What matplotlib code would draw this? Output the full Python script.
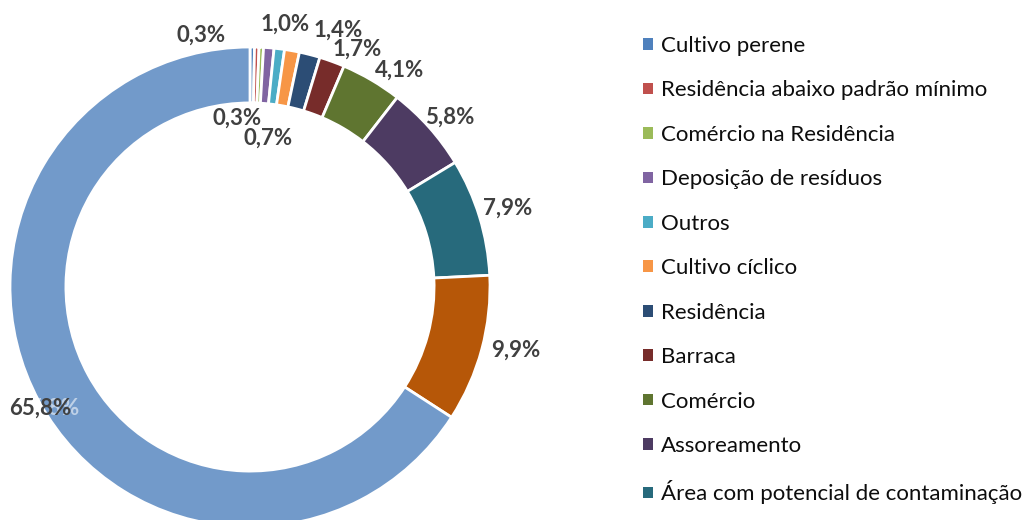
import matplotlib
matplotlib.use("Agg")
import matplotlib.pyplot as plt
from matplotlib.patches import Patch

plt.rcParams["font.family"] = ["Lato", "DejaVu Sans"]

# Legend entries (only the named categories are listed)
legend_names = [
    "Cultivo perene",
    "Residência abaixo padrão mínimo",
    "Comércio na Residência",
    "Deposição de resíduos",
    "Outros",
    "Cultivo cíclico",
    "Residência",
    "Barraca",
    "Comércio",
    "Assoreamento",
    "Área com potencial de contaminação",
]

# Share of each category (%), clockwise from 12 o'clock
shares = [0.3, 0.3, 0.3, 0.7, 0.7, 1.0, 1.4, 1.7, 4.1, 5.8, 7.9, 9.9, 65.8]

colors = [
    "#4F81BD", "#C0504D", "#9BBB59", "#8064A2", "#4BACC6", "#F79646",
    "#2C4D75", "#772C2A", "#5F7530", "#4D3B62", "#276A7C", "#B65708",
    "#729ACA",
]

# Where each value label sits (data units, ring radius = 1); None = no label
label_xy = [
    (-0.204, 1.05),
    (-0.054, 0.704),
    None,
    (0.075, 0.621),
    None,
    (0.146, 1.096),
    (0.367, 1.068),
    (0.446, 0.992),
    (0.625, 0.904),
    (0.833, 0.708),
    (1.075, 0.329),
    (1.108, -0.262),
    (-0.875, -0.504),
]

W, H = 1022, 520
fig = plt.figure(figsize=(W / 100, H / 100), dpi=100)
fig.patch.set_facecolor("white")

# Donut centre at (250, 287) px, outer radius 240 px
cx, cy, r = 250, 287, 240
ax = fig.add_axes([(cx - r) / W, (H - cy - r) / H, 2 * r / W, 2 * r / H])

wedges, _ = ax.pie(
    shares,
    colors=colors,
    startangle=90,
    counterclock=False,
    radius=1.0,
    wedgeprops=dict(width=0.233, edgecolor="white", linewidth=2.0),
)
ax.set_xlim(-1, 1)
ax.set_ylim(-1, 1)
ax.set_aspect("equal")
ax.axis("off")

label_color = "#404040"
label_size = 16
for val, pos in zip(shares, label_xy):
    if pos is None:
        continue
    txt = f"{val:.1f}%".replace(".", ",")
    if val > 50:
        # faint duplicate label lying over the large segment
        ax.text(pos[0] + 0.035, pos[1], txt, ha="center", va="center",
                fontsize=label_size, fontweight="bold", color="white",
                alpha=0.55, clip_on=False, zorder=4)
    ax.text(pos[0], pos[1], txt, ha="center", va="center",
            fontsize=label_size, fontweight="bold", color=label_color,
            clip_on=False, zorder=5)

handles = [Patch(facecolor=w.get_facecolor(), edgecolor="none")
           for w in wedges[:len(legend_names)]]
fig.legend(
    handles, legend_names,
    loc="upper left",
    bbox_to_anchor=(643 / W, 1 - 36 / H),
    frameon=False,
    fontsize=16,
    handlelength=0.43,
    handleheight=0.43,
    handletextpad=0.36,
    labelspacing=1.10,
    borderpad=0,
    borderaxespad=0,
    labelcolor="#0D0D0D",
)

fig.savefig("out.png", dpi=100, facecolor="white")
